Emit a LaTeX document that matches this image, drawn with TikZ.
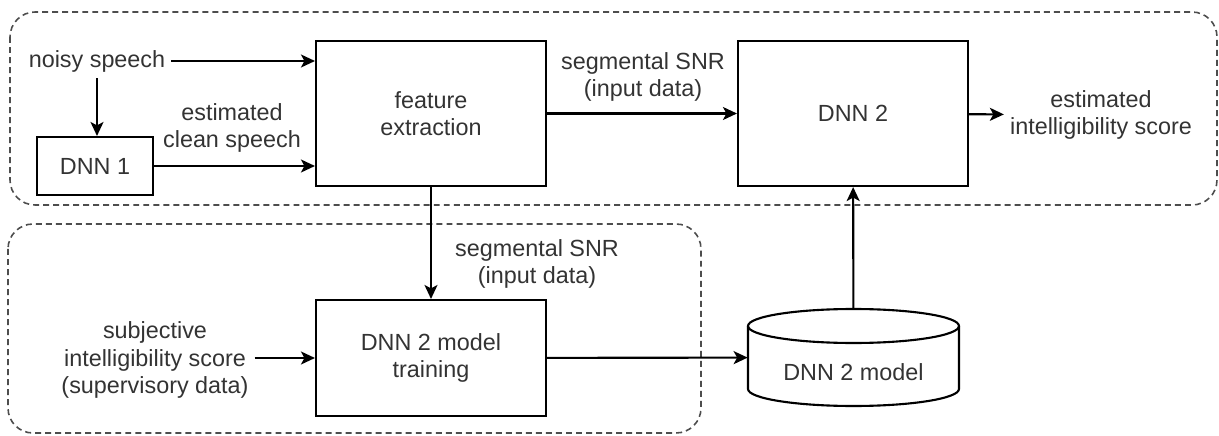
\documentclass[tikz,border=0pt]{standalone}
\usepackage{fontspec}
\setmainfont{Liberation Sans}
\usetikzlibrary{arrows.meta,calc}
\definecolor{txtgray}{HTML}{333333}
\definecolor{boxgray}{HTML}{4D4D4D}
\begin{document}
\begin{tikzpicture}[
    block/.style = {draw, line width=1.2pt, minimum width=4.6cm, minimum height=2.9cm},
    lbl/.style = {text=txtgray, align=center},
    group/.style = {draw=boxgray, line width=0.9pt, dash pattern=on 3.4pt off 2.3pt, rounded corners=0.5cm},
    flow/.style = {-{Stealth[length=2.8mm,width=2.6mm,inset=0.7mm]}, line width=1.2pt},
    font=\fontsize{13.3}{15.4}\selectfont
]
    \useasboundingbox (0,0) rectangle (24.38,-8.72);
    %Groups
    \draw[group] (0.2,-0.24) rectangle (24.34,-4.1);
    \draw[group] (0.16,-4.48) rectangle (14.02,-8.66);
    %Estimation
    \node[block] (feat) at (8.62,-2.27) {};
    \node[lbl] at (feat) {feature\\extraction};
    \node[block] (dnn2) at (17.06,-2.27) {};
    \node[lbl] at (dnn2) {DNN 2};
    \node[draw, line width=1.2pt, minimum width=2.32cm, minimum height=1.16cm] (dnn1) at (1.9,-3.32) {};
    \node[lbl] at (dnn1) {DNN 1};
    \node[lbl] (noisy) at (1.94,-1.22) {noisy speech};
    \node[lbl] (clean) at (4.64,-2.56) {estimated\\clean speech};
    \node[lbl] (snra) at (12.86,-1.54) {segmental SNR\\(input data)};
    \node[lbl] (score) at (22.02,-2.3) {estimated\\intelligibility score};
    \draw[flow] (noisy) -- (noisy -| feat.west);
    \draw[flow] (noisy.south) -- (noisy.south |- dnn1.north);
    \draw[flow] (dnn1) -- (dnn1 -| feat.west);
    \draw[flow] (feat) -- (dnn2);
    \draw[flow] (dnn2) -- (score);
    %Training
    \node[block, minimum height=2.32cm] (train) at (8.62,-7.16) {};
    \node[lbl] at (train) {DNN 2 model\\training};
    \node[lbl] (subj) at (3.1,-7.2) {subjective\\intelligibility score\\(supervisory data)};
    \node[lbl] (snrb) at (10.74,-5.27) {segmental SNR\\(input data)};
    \node[minimum width=4.22cm, minimum height=1.94cm, inner sep=0] (model) at (17.07,-7.15) {};
    \draw[line width=1.2pt] (14.96,-6.52) -- (14.96,-7.78)
        arc[start angle=180, end angle=360, x radius=2.11, y radius=0.34] -- (19.18,-6.52);
    \draw[line width=1.2pt] (17.07,-6.52) ellipse [x radius=2.11, y radius=0.34];
    \node[lbl] (modeltxt) at (17.07,-7.44) {DNN 2 model};
    \draw[flow] (feat) -- (train);
    \draw[flow] (subj.east |- train) -- (train);
    \draw[flow] (train) -- (model);
    \draw[flow] (model) -- (dnn2);
\end{tikzpicture}
\end{document}
